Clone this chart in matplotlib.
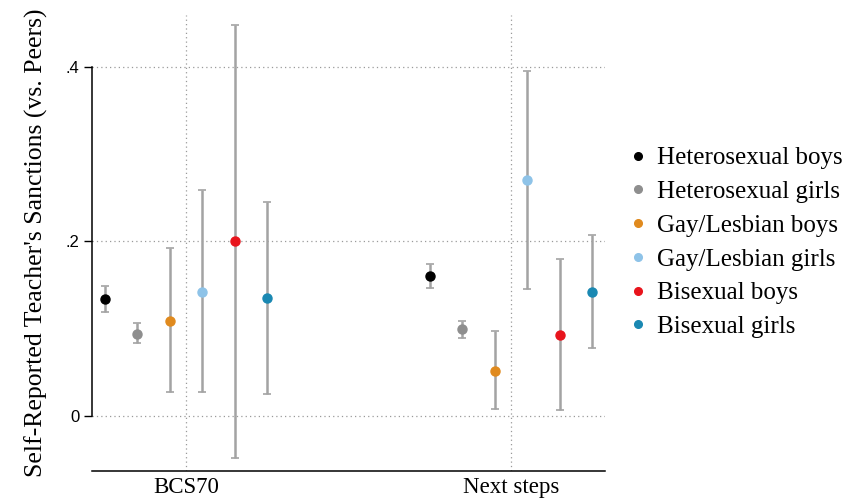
import matplotlib
matplotlib.use('Agg')
import matplotlib.pyplot as plt
from matplotlib.lines import Line2D
import numpy as np

studies = ['BCS70', 'Next steps']
groups = ['Heterosexual boys', 'Heterosexual girls', 'Gay/Lesbian boys',
          'Gay/Lesbian girls', 'Bisexual boys', 'Bisexual girls']
colors = ['#000000', '#8e8e8e', '#e08a1e', '#8ec3e8', '#e8141c', '#1a88b2']

est_bcs70 = [0.134, 0.094, 0.109, 0.142, 0.200, 0.135]
lo_bcs70 = [0.119, 0.083, 0.027, 0.027, -0.048, 0.025]
hi_bcs70 = [0.149, 0.106, 0.192, 0.259, 0.448, 0.245]

est_ns = [0.160, 0.099, 0.052, 0.270, 0.093, 0.142]
lo_ns = [0.146, 0.089, 0.008, 0.145, 0.007, 0.078]
hi_ns = [0.174, 0.109, 0.097, 0.395, 0.180, 0.207]

yticks = [0, 0.2, 0.4]
yticklabels = ['0', '.2', '.4']

serif = ['Liberation Serif', 'DejaVu Serif']
sans = ['Liberation Sans', 'DejaVu Sans']

fig = plt.figure(figsize=(8.63, 4.99), dpi=100)
ax = fig.add_axes([92/863, 1-471/499, (605-92)/863, (471-15)/499])

xpos = np.arange(1, len(studies) + 1)
offsets = np.linspace(-0.25, 0.25, len(groups))

# grid
for y in yticks:
    ax.axhline(y, color='#9a9a9a', lw=0.9, ls=(0, (1, 2.5)), zorder=0)
for x in xpos:
    ax.axvline(x, color='#9a9a9a', lw=0.9, ls=(0, (1, 2.5)), zorder=0)

est_all = [est_bcs70, est_ns]
lo_all = [lo_bcs70, lo_ns]
hi_all = [hi_bcs70, hi_ns]

for si, x0 in enumerate(xpos):
    for gi, g in enumerate(groups):
        e = est_all[si][gi]
        lo = lo_all[si][gi]
        hi = hi_all[si][gi]
        ax.errorbar(x0 + offsets[gi], e, yerr=[[e - lo], [hi - e]],
                    fmt='none', ecolor='#a3a3a3', elinewidth=1.8,
                    capsize=2.8, capthick=1.2, zorder=2)
        ax.plot(x0 + offsets[gi], e, 'o', color=colors[gi], ms=6.5,
                mec=colors[gi], zorder=3)

ax.set_xlim(0.711, 2.289)
ax.set_ylim(-0.063, 0.459)

ax.set_xticks(xpos)
ax.set_xticklabels(studies, fontfamily=serif, fontsize=16.5)
ax.tick_params(axis='x', length=0, pad=4)
ax.set_yticks(yticks)
ax.set_yticklabels(yticklabels, fontfamily=sans, fontsize=12)
ax.tick_params(axis='y', length=6, width=1, pad=3)

for s in ['top', 'right']:
    ax.spines[s].set_visible(False)
ax.spines['left'].set_bounds(0, 0.4)
ax.spines['left'].set_linewidth(1.1)
ax.spines['bottom'].set_linewidth(1.1)

ax.set_ylabel("Self-Reported Teacher's Sanctions (vs. Peers)",
              fontfamily=serif, fontsize=18.5, labelpad=13)

handles = [Line2D([], [], marker='o', ls='none', color=c, ms=5.5) for c in colors]
fig.legend(handles, groups, loc='center left',
           bbox_to_anchor=(628/863, 1-242.5/499), frameon=False,
           prop={'family': serif, 'size': 18}, handlelength=0.8,
           handletextpad=0.35, labelspacing=0.45, borderpad=0, borderaxespad=0)

fig.savefig('out.png', dpi=100)
